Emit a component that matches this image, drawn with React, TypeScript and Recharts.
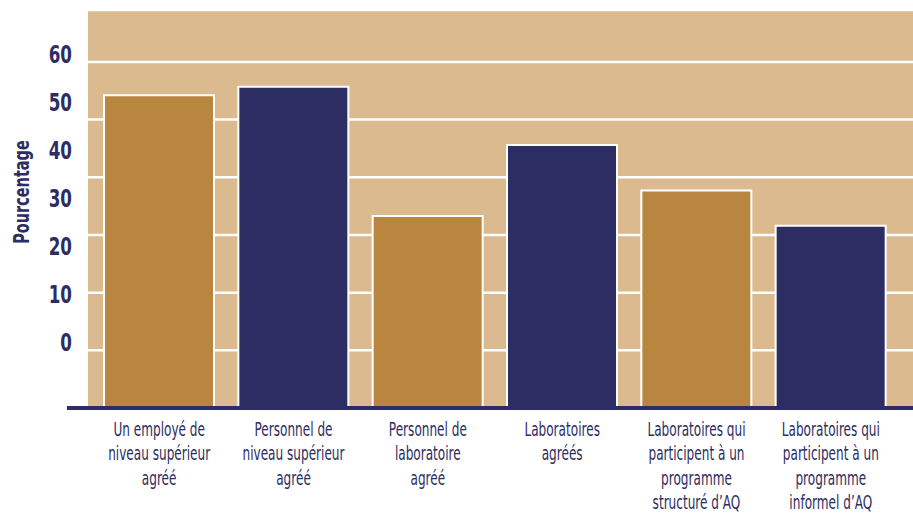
import React from "react";
import { BarChart, Bar, XAxis, YAxis, CartesianGrid, Cell } from "recharts";

// categories (line breaks as in the original figure)
const categories = [
  "Un employé de\nniveau supérieur\nagréé",
  "Personnel de\nniveau supérieur\nagréé",
  "Personnel de\nlaboratoire\nagréé",
  "Laboratoires\nagréés",
  "Laboratoires qui\nparticipent à un\nprogramme\nstructuré d’AQ",
  "Laboratoires qui\nparticipent à un\nprogramme\ninformel d’AQ",
];
const values = [54.2, 55.7, 33.3, 45.6, 37.7, 31.6];
const yTicks = [0, 10, 20, 30, 40, 50, 60];

const GOLD = "#B8863F";
const NAVY = "#2C2D62";
const BG = "#DCBA8F";
const barColors = [GOLD, NAVY, GOLD, NAVY, GOLD, NAVY];
const FONT = "'DejaVu Sans', sans-serif";

const data = categories.map((name, i) => ({ name, value: values[i] }));

// the original uses a condensed face, so text is squeezed horizontally
const XTick = (props: any) => {
  const { x, y, payload } = props;
  const lines = String(payload.value).split("\n");
  return (
    <g transform={`translate(${x} ${y}) scale(0.62 1)`}>
      <text x={0} y={0} textAnchor="middle" fill={NAVY} fontSize={19.5} fontFamily={FONT}>
        {lines.map((l, i) => (
          <tspan key={i} x={0} dy={i === 0 ? 28 : 24.5}>
            {l}
          </tspan>
        ))}
      </text>
    </g>
  );
};

const YTick = (props: any) => {
  const { x, y, payload } = props;
  return (
    <g transform={`translate(${x} ${y}) scale(0.67 1)`}>
      <text x={0} y={0} dy="0.36em" textAnchor="end" fill={NAVY} fontSize={25} fontWeight="bold" fontFamily={FONT}>
        {payload.value}
      </text>
    </g>
  );
};

const TitleLabel = () => (
  <g transform="translate(21 192) rotate(-90) scale(0.69 1)">
    <text x={0} y={0} textAnchor="middle" dominantBaseline="central" fill={NAVY} fontSize={21} fontWeight="bold" fontFamily={FONT}>
      Pourcentage
    </text>
  </g>
);

export default function App() {
  return (
    <div style={{ position: "absolute", left: 0, top: 0 }}>
      <BarChart width={913} height={515} data={data} margin={{ top: 10, right: 0, bottom: 7, left: 7 }}>
        <CartesianGrid
          yAxisId="v"
          x={88}
          y={10}
          width={825}
          height={398}
          vertical={false}
          stroke="#FFFFFF"
          strokeWidth={2.5}
          fill={BG}
          fillOpacity={1}
        />
        <XAxis
          dataKey="name"
          height={100}
          padding={{ left: 25, right: 15 }}
          axisLine={{ stroke: NAVY, strokeWidth: 4 }}
          tickLine={false}
          tickSize={0}
          tickMargin={0}
          interval={0}
          tick={<XTick />}
        />
        <YAxis yAxisId="v" hide type="number" domain={[0, 69]} ticks={yTicks} />
        <YAxis
          yAxisId="lbl"
          type="number"
          width={60}
          domain={[-13.84, 69.22]}
          ticks={yTicks}
          allowDataOverflow
          axisLine={false}
          tickLine={false}
          tickSize={0}
          tickMargin={-5}
          tick={<YTick />}
          label={<TitleLabel />}
        />
        <Bar yAxisId="v" dataKey="value" barSize={110} stroke="#FFFFFF" strokeWidth={2} isAnimationActive={false}>
          {data.map((d, i) => (
            <Cell key={d.name} fill={barColors[i]} />
          ))}
        </Bar>
      </BarChart>
    </div>
  );
}
